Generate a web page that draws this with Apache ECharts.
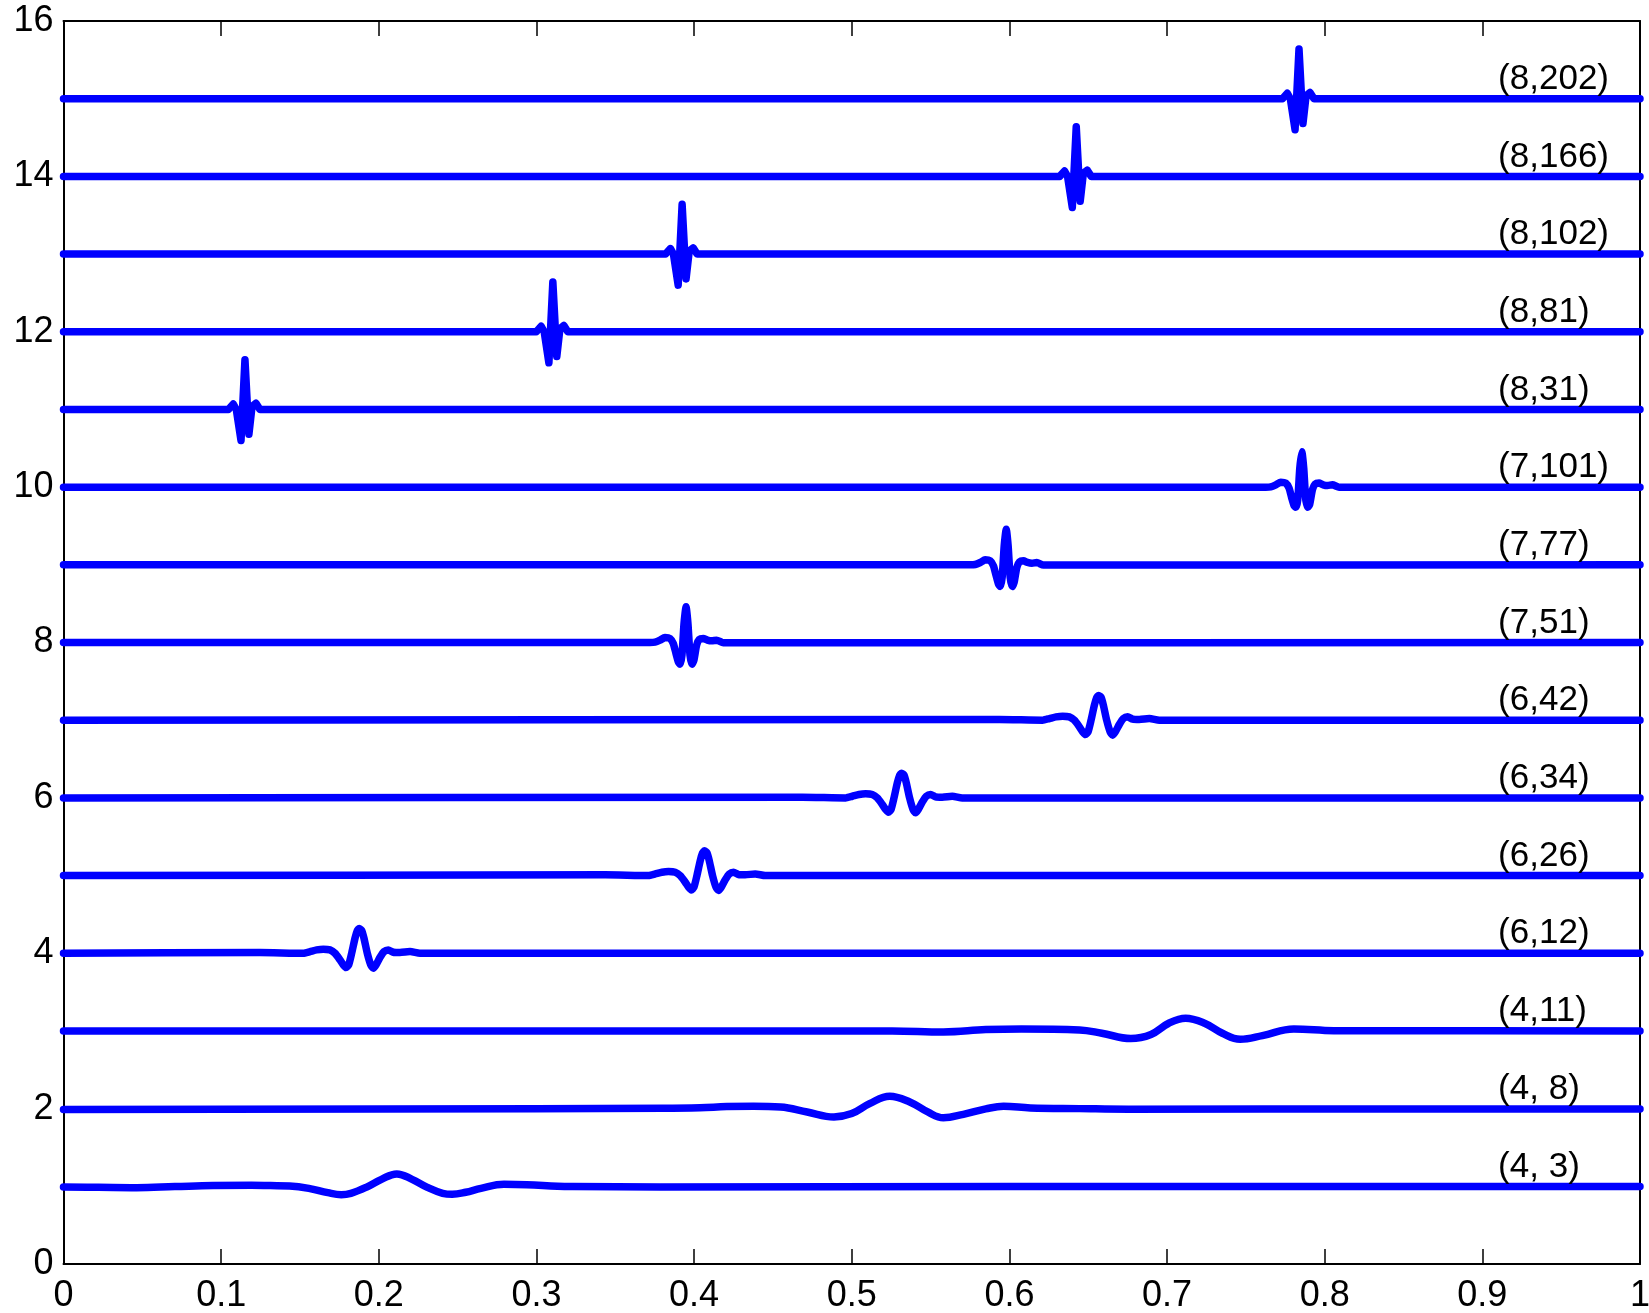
<!DOCTYPE html>
<html>
<head>
<meta charset="utf-8">
<script src="https://cdn.jsdelivr.net/npm/echarts@6/dist/echarts.min.js"></script>
<style>
  html, body { margin: 0; padding: 0; background: #fff; }
  #main { width: 1649px; height: 1313px; }
</style>
</head>
<body>
<div id="main"></div>
<script>
// wavelet packet curves: [x, y]
var w4_3 = [[0,0.99],[0.0221,0.987],[0.0463,0.983],[0.0706,0.996],[0.0949,1.009],[0.1192,1.013],[0.1313,1.009],[0.1434,1.004],[0.1556,0.974],[0.1677,0.918],[0.1762,0.893],[0.1823,0.91],[0.192,0.987],[0.2017,1.09],[0.2114,1.16],[0.2211,1.09],[0.2308,0.987],[0.2405,0.91],[0.2466,0.897],[0.2551,0.923],[0.2648,0.974],[0.2794,1.026],[0.2939,1.021],[0.3134,1.0],[0.3231,0.996],[0.3784,0.992],[0.6,0.997],[1,0.997]];
var w4_8 = [[0,1.99],[0.30,2.0],[0.38,2.005],[0.4037,2.012],[0.4207,2.026],[0.4377,2.03],[0.4548,2.021],[0.4717,1.957],[0.4887,1.893],[0.5,1.936],[0.5113,2.064],[0.5241,2.16],[0.5368,2.086],[0.5482,1.957],[0.5581,1.882],[0.5708,1.927],[0.585,1.996],[0.5963,2.03],[0.6133,2.009],[0.6445,2.0],[0.6756,1.993],[0.8477,1.995],[1,1.995]];
var w4_11 = [[0,3.0],[0.5256,3.0],[0.5581,2.987],[0.585,3.017],[0.6076,3.026],[0.6445,3.013],[0.6586,2.97],[0.677,2.903],[0.6898,2.955],[0.7011,3.099],[0.7118,3.162],[0.7238,3.099],[0.7351,2.97],[0.7464,2.893],[0.7605,2.94],[0.7804,3.026],[0.8058,3.004],[0.8477,3.003],[1,3.0]];
var w6_12 = [[0,4.0],[0.1246,4.009],[0.1521,4.0],[0.1564,4.021],[0.1606,4.043],[0.1648,4.052],[0.169,4.043],[0.1722,4.0],[0.1754,3.914],[0.1775,3.85],[0.1792,3.815],[0.1809,3.85],[0.1828,4.0],[0.1849,4.193],[0.1864,4.292],[0.1876,4.318],[0.1892,4.292],[0.1906,4.193],[0.1927,4.0],[0.1949,3.85],[0.1965,3.807],[0.1982,3.85],[0.2008,3.948],[0.2033,4.021],[0.206,4.043],[0.2092,4.013],[0.2134,4.009],[0.2198,4.021],[0.2261,4.0],[0.2388,4.0],[1,4.0]];
var w6_26 = [[0,5.0],[0.3436,5.009],[0.3711,5.0],[0.3754,5.021],[0.3796,5.043],[0.3838,5.052],[0.388,5.043],[0.3912,5.0],[0.3944,4.914],[0.3965,4.85],[0.3982,4.815],[0.3999,4.85],[0.4018,5.0],[0.4039,5.193],[0.4054,5.292],[0.4066,5.318],[0.4082,5.292],[0.4096,5.193],[0.4117,5.0],[0.4139,4.85],[0.4155,4.807],[0.4172,4.85],[0.4198,4.948],[0.4223,5.021],[0.425,5.043],[0.4282,5.013],[0.4324,5.009],[0.4388,5.021],[0.4451,5.0],[0.4578,5.0],[1,5.0]];
var w6_34 = [[0,6.0],[0.4686,6.009],[0.4961,6.0],[0.5004,6.021],[0.5046,6.043],[0.5088,6.052],[0.513,6.043],[0.5162,6.0],[0.5194,5.914],[0.5215,5.85],[0.5232,5.815],[0.5249,5.85],[0.5268,6.0],[0.5289,6.193],[0.5304,6.292],[0.5316,6.318],[0.5332,6.292],[0.5346,6.193],[0.5367,6.0],[0.5389,5.85],[0.5405,5.807],[0.5422,5.85],[0.5448,5.948],[0.5473,6.021],[0.55,6.043],[0.5532,6.013],[0.5574,6.009],[0.5638,6.021],[0.5701,6.0],[0.5828,6.0],[1,6.0]];
var w6_42 = [[0,7.0],[0.5936,7.009],[0.6211,7.0],[0.6254,7.021],[0.6296,7.043],[0.6338,7.052],[0.638,7.043],[0.6412,7.0],[0.6444,6.914],[0.6465,6.85],[0.6482,6.815],[0.6499,6.85],[0.6518,7.0],[0.6539,7.193],[0.6554,7.292],[0.6566,7.318],[0.6582,7.292],[0.6596,7.193],[0.6617,7.0],[0.6639,6.85],[0.6655,6.807],[0.6672,6.85],[0.6698,6.948],[0.6723,7.021],[0.675,7.043],[0.6782,7.013],[0.6824,7.009],[0.6888,7.021],[0.6951,7.0],[0.7078,7.0],[1,7.0]];
var w7_51 = [[0,8.0],[0.372,8.0],[0.3752,8.004],[0.3784,8.03],[0.3815,8.064],[0.3847,8.052],[0.3868,7.987],[0.3885,7.858],[0.39,7.751],[0.3911,7.72],[0.3923,7.837],[0.3936,8.245],[0.3949,8.459],[0.3961,8.245],[0.3974,7.837],[0.3987,7.72],[0.3999,7.773],[0.4016,7.966],[0.4033,8.039],[0.4058,8.052],[0.4084,8.03],[0.4112,8.021],[0.4143,8.03],[0.4185,7.996],[1,8.0]];
var w7_77 = [[0,9.0],[0.5751,9.0],[0.5783,9.004],[0.5815,9.03],[0.5846,9.064],[0.5878,9.052],[0.5899,8.987],[0.5916,8.858],[0.5931,8.751],[0.5942,8.72],[0.5954,8.837],[0.5967,9.245],[0.598,9.459],[0.5992,9.245],[0.6005,8.837],[0.6018,8.72],[0.603,8.773],[0.6047,8.966],[0.6064,9.039],[0.6089,9.052],[0.6115,9.03],[0.6143,9.021],[0.6174,9.03],[0.6216,8.996],[1,9.0]];
var w7_101 = [[0,10.0],[0.7626,10.0],[0.7658,10.004],[0.769,10.03],[0.7721,10.064],[0.7753,10.052],[0.7774,9.987],[0.7791,9.858],[0.7806,9.76],[0.7817,9.74],[0.7829,9.837],[0.7842,10.245],[0.7855,10.455],[0.7867,10.245],[0.788,9.837],[0.7893,9.74],[0.7905,9.78],[0.7922,9.966],[0.7939,10.039],[0.7964,10.052],[0.799,10.03],[0.8018,10.021],[0.8049,10.03],[0.8091,10.0],[0.812,10.0],[1,10.0]];
var w8_31 = [[0,11],[0.1046,11],[0.1077,11.07],[0.1096,11.0],[0.1126,10.6],[0.1151,11.64],[0.1176,10.68],[0.1196,11.04],[0.1221,11.08],[0.1246,11.0],[1,11]];
var w8_81 = [[0,12],[0.2999,12],[0.303,12.07],[0.3049,12.0],[0.3079,11.6],[0.3104,12.64],[0.3129,11.68],[0.3149,12.04],[0.3174,12.08],[0.3199,12.0],[1,12]];
var w8_102 = [[0,13],[0.3819,13],[0.385,13.07],[0.3869,13.0],[0.3899,12.6],[0.3924,13.64],[0.3949,12.68],[0.3969,13.04],[0.3994,13.08],[0.4019,13.0],[1,13]];
var w8_166 = [[0,14],[0.6319,14],[0.635,14.07],[0.6369,14.0],[0.6399,13.6],[0.6424,14.64],[0.6449,13.68],[0.6469,14.04],[0.6494,14.08],[0.6519,14.0],[1,14]];
var w8_202 = [[0,15],[0.7732,15],[0.7763,15.07],[0.7782,15.0],[0.7812,14.6],[0.7837,15.64],[0.7862,14.68],[0.7882,15.04],[0.7907,15.08],[0.7932,15.0],[1,15]];

var curves = [w4_3, w4_8, w4_11, w6_12, w6_26, w6_34, w6_42, w7_51, w7_77, w7_101, w8_31, w8_81, w8_102, w8_166, w8_202];
var names = ['(4, 3)', '(4, 8)', '(4,11)', '(6,12)', '(6,26)', '(6,34)', '(6,42)', '(7,51)', '(7,77)', '(7,101)', '(8,31)', '(8,81)', '(8,102)', '(8,166)', '(8,202)'];
var levels = [4, 4, 4, 6, 6, 6, 6, 7, 7, 7, 8, 8, 8, 8, 8];
var labelX = 0.91;

var myChart = echarts.init(document.getElementById('main'));

var font = 'Liberation Sans, Arial, sans-serif';
function xAx(pos, showLabel) {
  return {
    type: 'value', min: 0, max: 1, interval: 0.1, position: pos,
    axisLine: { show: true, onZero: false, lineStyle: { color: '#000', width: 2 } },
    axisTick: { show: true, inside: true, length: 15, lineStyle: { color: '#000', width: 1.5 } },
    axisLabel: { show: showLabel, color: '#000', fontSize: 36, fontFamily: font, margin: 14 },
    splitLine: { show: false }
  };
}
function yAx(pos, showLabel) {
  return {
    type: 'value', min: 0, max: 16, interval: 2, position: pos,
    axisLine: { show: true, onZero: false, lineStyle: { color: '#000', width: 2 } },
    axisTick: { show: true, inside: true, length: 15, lineStyle: { color: '#000', width: 1.5 } },
    axisLabel: { show: showLabel, color: '#000', fontSize: 36, fontFamily: font, margin: 10 },
    splitLine: { show: false }
  };
}

var series = curves.map(function (c, i) {
  return {
    type: 'line',
    data: c,
    showSymbol: false,
    smooth: levels[i] === 4 ? 0.4 : (levels[i] === 8 ? false : 0.2),
    lineStyle: { color: '#0000ff', width: 7.5, cap: 'round', join: 'round' },
    z: 3
  };
});

series.push({
  type: 'scatter',
  symbolSize: 0,
  itemStyle: { opacity: 1 },
  data: names.map(function (n, i) { return { name: n, value: [labelX, i + 1.25] }; }),
  label: {
    show: true, position: 'right', distance: 0, formatter: '{b}',
    color: '#000', fontSize: 35, fontFamily: font
  },
  z: 5
});

var option = {
  animation: false,
  backgroundColor: '#fff',
  grid: { left: 63.5, right: 9, top: 21, bottom: 49, outerBoundsMode: 'none' },
  xAxis: [xAx('bottom', true), xAx('top', false)],
  yAxis: [yAx('left', true), yAx('right', false)],
  series: series
};

myChart.setOption(option);
</script>
</body>
</html>
